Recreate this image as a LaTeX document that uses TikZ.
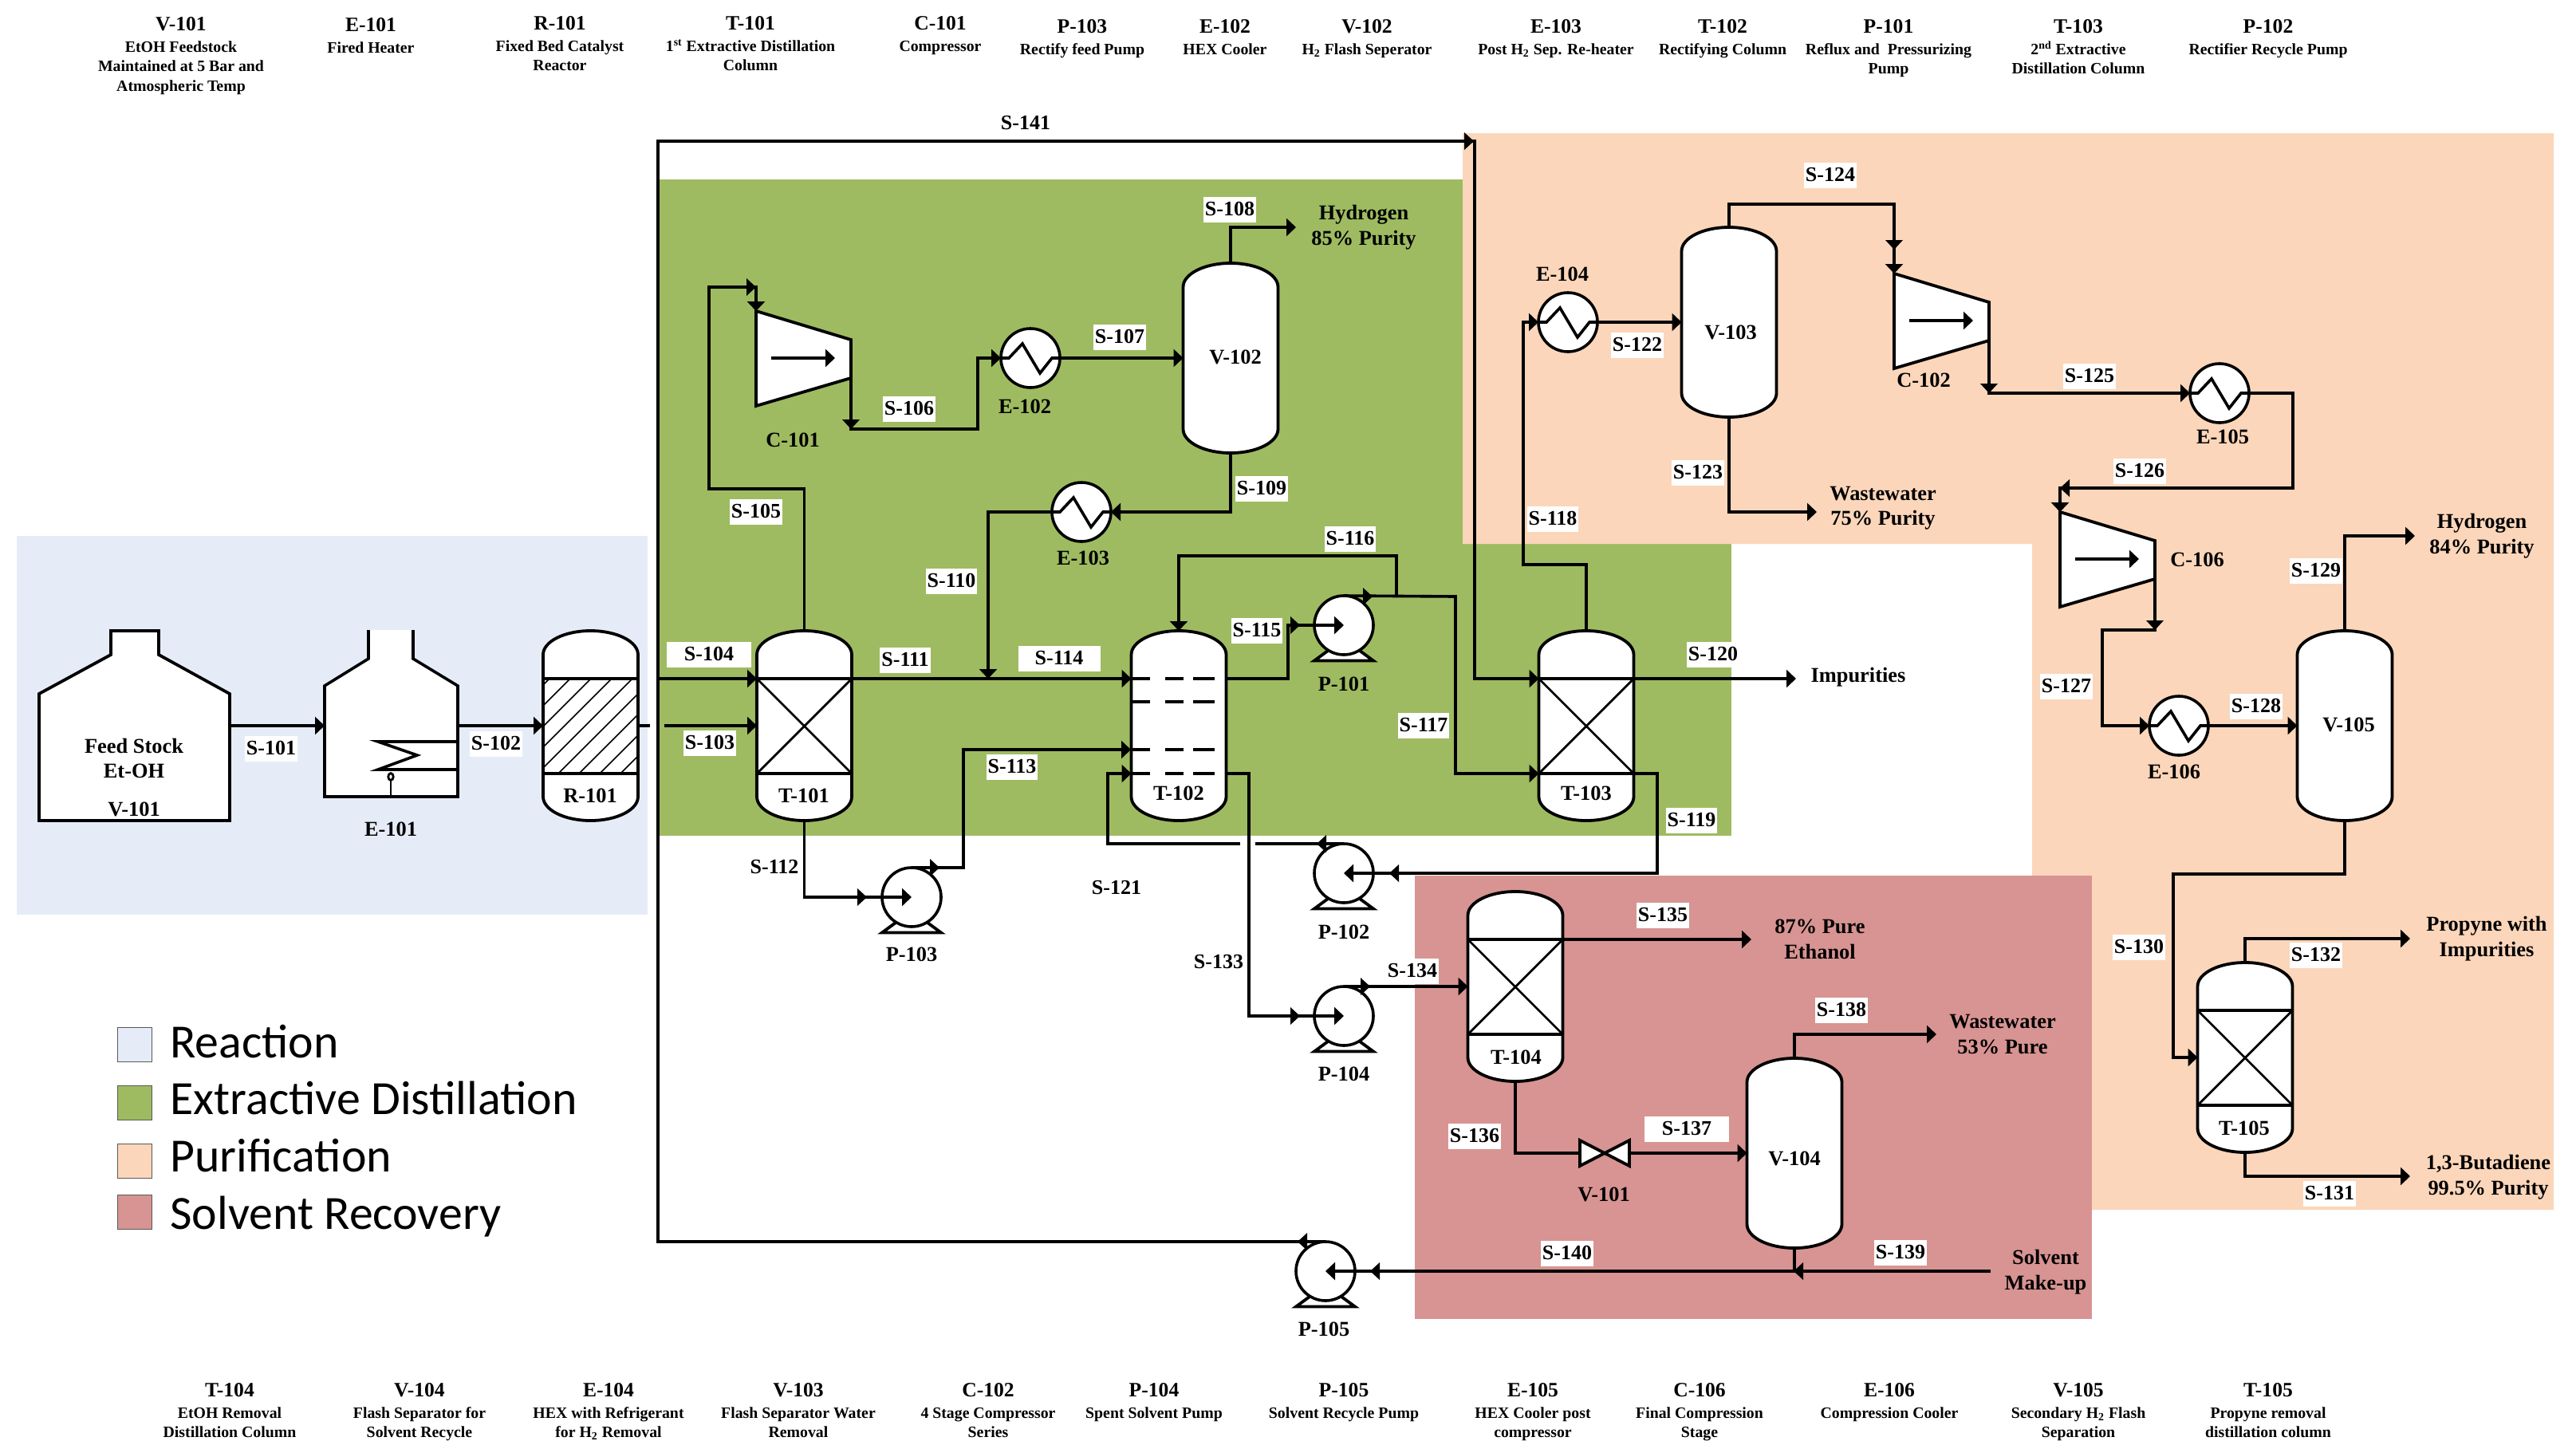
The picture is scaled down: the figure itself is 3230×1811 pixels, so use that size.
\documentclass[tikz,border=0pt]{standalone}
\usepackage{fontspec}
\setmainfont{Liberation Serif}
\newfontfamily\legendfont{Carlito}
\usetikzlibrary{arrows.meta}
\definecolor{regblue}{HTML}{E6ECF7}
\definecolor{reggreen}{HTML}{9EBB61}
\definecolor{regpeach}{HTML}{FBD6BA}
\definecolor{regrose}{HTML}{D79492}
\tikzset{
  pipe/.style={line width=1.8pt,line join=miter},
  flow/.style={pipe,-{Triangle[length=6pt,width=11pt]}},
  eq/.style={line width=1.9pt,fill=white,line join=miter},
  thinline/.style={line width=1.4pt},
  anch/.style={rectangle,inner sep=0pt,outer sep=0pt,minimum width=59.5pt,minimum height=119pt},
  hexnode/.style={circle,draw,fill=white,line width=1.8pt,inner sep=0pt,outer sep=0pt,minimum size=37pt},
  lab/.style={fill=white,font=\fontsize{13}{16}\selectfont\bfseries,text height=10.5pt,text depth=3.2pt,inner xsep=1pt,inner ysep=1pt},
  txt/.style={font=\fontsize{13.2}{15.8}\selectfont\bfseries,align=center,inner sep=0pt},
  ktitle/.style={font=\fontsize{12.8}{15}\selectfont\bfseries,inner sep=0pt,text height=8.3pt,text depth=0pt},
  kdesc/.style={font=\fontsize{9.9}{12.2}\selectfont\bfseries,align=center,inner sep=0pt,anchor=north},
  swatch/.style={rectangle,draw=black!65,line width=0.5pt,inner sep=0pt,minimum width=21.5pt,minimum height=21.5pt},
  legtext/.style={font=\fontsize{29.9}{32}\selectfont\legendfont,anchor=base west,inner sep=0pt}
}
% mid-line arrow head: x, y, direction
\newcommand\pfTip[3]{\fill[shift={(#1,#2)},rotate=#3] (0,0) -- (-12,-11) -- (-12,11) -- cycle;}
% vessel: name, centre x, top y
\newcommand\pfVessel[3]{%
  \node[anch] (#1) at (#2,{#3+119}) {};
  \draw[eq,shift={(#2,#3)}] (-59.5,30) arc[start angle=180,end angle=0,x radius=29.75pt,y radius=15pt]
    -- (59.5,208) arc[start angle=0,end angle=-180,x radius=29.75pt,y radius=15pt] -- cycle;
  \coordinate (#1-a) at ({#2-59.5},{#3+60});
  \coordinate (#1-b) at ({#2-59.5},{#3+179});
  \coordinate (#1-c) at ({#2+59.5},{#3+60});
  \coordinate (#1-d) at ({#2+59.5},{#3+179});
}
% packing bands and cross
\newcommand\pfPacked[2]{%
  \draw[pipe,shift={(#1,#2)}] (-59.5,60) -- (59.5,60) (-59.5,179) -- (59.5,179);
  \draw[thinline,shift={(#1,#2)}] (-59.5,60) -- (59.5,179) (59.5,60) -- (-59.5,179);
}
% compressor: name, left x, top y
\newcommand\pfComp[3]{%
  \draw[eq,shift={(#2,#3)}] (0,0) -- (119,36) -- (119,84) -- (0,119) -- cycle;
  \coordinate (#1-in) at (#2,#3);
  \coordinate (#1-out) at ({#2+119},{#3+84});
  \node[inner sep=0pt] (#1) at ({#2+59},{#3+59}) {};
  \draw[pipe,-{Triangle[length=6pt,width=11pt]}] ({#2+19},{#3+59}) -- ({#2+99},{#3+59});
}
% pump: name, centre x, centre y
\newcommand\pfPump[3]{%
  \draw[eq,shift={(#2,#3)}] (-37,44.5) -- (37,44.5) -- (20,32) -- (-20,32) -- cycle;
  \node[hexnode] (#1) at (#2,#3) {};
  \coordinate (#1-top) at (#2,{#3-37});
}
% heat exchanger: name, centre x, centre y
\newcommand\pfHex[3]{%
  \node[hexnode] (#1) at (#2,#3) {};
  \draw[pipe,shift={(#2,#3)}] (-37,0) -- (-27,0) -- (-10,-18) -- (12,19) -- (27,0) -- (37,0);
}
% key entry: name, x, title y, title, description
\newcommand\pfKey[5]{%
  \node[ktitle] (#1) at (#2,#3) {#4};
  \node[kdesc] (#1d) at (#2,{#3+18}) {\strut #5};
}
\begin{document}
\begin{tikzpicture}[x=0.5pt,y=-0.5pt]
\useasboundingbox (0,0) rectangle (3230,1811);
\fill[white] (0,0) rectangle (3230,1811);
% process regions
\fill[regblue] (21,672) rectangle (812,1147);
\fill[reggreen] (826,225) rectangle (2171,1048);
\fill[regpeach] (1834,167) -- (3202,167) -- (3202,1517) -- (2548,1517) -- (2548,682) -- (1834,682) -- cycle;
\fill[regrose] (1774,1098) rectangle (2623,1654);
% V-101 feed tank
\node[inner sep=0pt] (V101) at (168,910) {};
\draw[eq] (49,1029) -- (49,870) -- (139,821) -- (139,791) -- (199,791) -- (199,821) -- (288,870) -- (288,1029) -- cycle;
\coordinate (V101-o) at (288,910);
% E-101 fired heater
\node[inner sep=0pt] (E101) at (490,910) {};
\fill[white] (462,790) -- (462,826) -- (407,860) -- (407,999) -- (574,999) -- (574,860) -- (518,826) -- (518,790) -- cycle;
\draw[pipe] (462,790) -- (462,826) -- (407,860) -- (407,999) -- (574,999) -- (574,860) -- (518,826) -- (518,790);
\draw[pipe] (574,930) -- (474,930) -- (523,947) -- (474,965) -- (574,965);
\draw[thinline] (490,999) -- (490,978);
\draw[thinline] (490,974) ellipse[x radius=1.6pt,y radius=2.2pt];
\coordinate (E101-i) at (407,910);
\coordinate (E101-o) at (574,910);
% R-101 reactor
\pfVessel{R101}{740.5}{791}
\begin{scope}
  \clip (681,851) rectangle (800,970);
  \foreach \k in {-5,...,3} \draw[line width=0.8pt] ({700+\k*26},970) -- ({820+\k*26},850);
\end{scope}
\draw[pipe] (R101-a) -- (R101-c) (R101-b) -- (R101-d);
% columns
\pfVessel{T101}{1008.5}{791}\pfPacked{1008.5}{791}
\pfVessel{T102}{1478}{791}
\foreach \yy in {851,880,940,970} \draw[pipe] (1418,\yy) -- (1442,\yy) (1461,\yy) -- (1484,\yy) (1496,\yy) -- (1523,\yy);
\pfVessel{T103}{1989}{791}\pfPacked{1989}{791}
\pfVessel{T104}{1900}{1118}\pfPacked{1900}{1118}
\pfVessel{T105}{2815}{1207}\pfPacked{2815}{1207}
% flash drums
\pfVessel{V102}{1543}{330}
\pfVessel{V103}{2168}{285}
\pfVessel{V104}{2250}{1327}
\pfVessel{V105}{2940}{791}
% compressors
\pfComp{C101}{948}{390}
\pfComp{C102}{2375}{343}
\pfComp{C106}{2583}{642}
% heat exchangers
\pfHex{E102}{1292}{449}
\pfHex{E103}{1356}{642}
\pfHex{E104}{1966}{404}
\pfHex{E105}{2783}{493}
\pfHex{E106}{2732}{910}
% pumps
\pfPump{P101}{1685}{784}
\pfPump{P102}{1685}{1095}
\pfPump{P103}{1143}{1125}
\pfPump{P104}{1685}{1274}
\pfPump{P105}{1662}{1594}
% valve
\node[inner sep=0pt,minimum width=31pt,minimum height=15.5pt] (VLV) at (2012,1446) {};
\draw[eq] (1981,1430) -- (2043,1462) -- (2043,1430) -- (1981,1462) -- cycle;
% free ends and junctions
\coordinate (stubA) at (815,910);
\coordinate (stubB) at (833,910);
\coordinate (T101-f) at (949,910);
\coordinate (recA) at (825,851);
\coordinate (T102-f) at (1418,940);
\coordinate (jS110) at (1239,851);
\coordinate (jS116) at (1751,748);
\coordinate (gapA) at (1574,1058);
\coordinate (gapB) at (1555,1058);
\coordinate (prodH1) at (1625,285);
\coordinate (prodImp) at (2252,851);
\coordinate (prodW1) at (2278,642);
\coordinate (prodH2) at (3028,672);
\coordinate (prodP) at (3022,1177);
\coordinate (prodB) at (3022,1475);
\coordinate (prodE) at (2196,1178);
\coordinate (prodW2) at (2428,1297);
\coordinate (makeup) at (2496,1594);
\coordinate (jV104) at (2250,1594);
% connectors
\draw[flow] (V101-o) -- (E101-i);
\draw[flow] (E101-o) -- (R101.west);
\draw[pipe] (R101.east) -- (stubA);
\draw[flow] (stubB) -- (T101-f);
\draw[flow] (recA) -- (T101-a);
\draw[flow] (P105-top) -- (825,1557) -- (825,177) -- (1849,177) -- (1849,851) -- (T103-a);
\pfTip{1848}{177}{0}
\pfTip{1627}{1557}{180}
\draw[flow] (T101.north) -- (1008.5,613) -- (889,613) -- (889,360) -- (948,360) -- (C101-in);
\pfTip{948}{360}{0}
\draw[flow] (C101-out) -- (1067,538) -- (1226,538) -- (1226,449) -- (E102.west);
\pfTip{1067}{538}{270}
\draw[flow] (E102.east) -- (V102.west);
\draw[flow] (V102.north) -- (1543,285) -- (prodH1);
\draw[flow] (V102.south) -- (1543,642) -- (E103.east);
\draw[flow] (E103.west) -- (1239,642) -- (jS110);
\draw[flow] (T101-c) -- (T102-a);
\draw[flow] (T101.south) -- (1008.5,1125) -- (P103.center);
\pfTip{1087}{1125}{0}
\draw[flow] (P103-top) -- (1208,1088) -- (1208,940) -- (T102-f);
\pfTip{1178}{1088}{0}
\draw[flow] (T102-c) -- (1615,851) -- (1615,784) -- (P101.center);
\pfTip{1630}{784}{0}
\draw[flow] (P101-top) -- (1825,748) -- (1825,970) -- (T103-b);
\pfTip{1721}{748}{0}
\draw[flow] (jS116) -- (1751,697) -- (1478,697) -- (T102.north);
\draw[flow] (T103.north) -- (1989,708) -- (1910,708) -- (1910,404) -- (E104.west);
\draw[flow] (E104.east) -- (V103.west);
\draw[flow] (T103-c) -- (prodImp);
\draw[flow] (T103-d) -- (2078,970) -- (2078,1095) -- (P102.center);
\pfTip{1742}{1095}{180}
\draw[pipe] (P102-top) -- (gapA);
\pfTip{1651}{1058}{180}
\draw[flow] (gapB) -- (1389,1058) -- (1389,970) -- (T102-b);
\draw[flow] (T102-d) -- (1566,970) -- (1566,1274) -- (P104.center);
\pfTip{1630}{1274}{0}
\draw[flow] (P104-top) -- (T104.west);
\pfTip{1718}{1237}{0}
\draw[flow] (V103.south) -- (2168,642) -- (prodW1);
\draw[flow] (V103.north) -- (2168,256) -- (2375,256) -- (C102-in);
\pfTip{2375}{313}{270}
\draw[flow] (C102-out) -- (2494,493) -- (E105.west);
\pfTip{2494}{493}{270}
\draw[flow] (E105.east) -- (2875,493) -- (2875,612) -- (2583,612) -- (C106-in);
\pfTip{2583}{612}{180}
\draw[flow] (C106-out) -- (2702,790) -- (2636,790) -- (2636,910) -- (E106.west);
\pfTip{2702}{790}{270}
\draw[flow] (E106.east) -- (V105.west);
\draw[flow] (V105.north) -- (2940,672) -- (prodH2);
\draw[flow] (V105.south) -- (2940,1096) -- (2725,1096) -- (2725,1326) -- (T105.west);
\draw[flow] (T105.north) -- (2815,1177) -- (prodP);
\draw[flow] (T105.south) -- (2815,1475) -- (prodB);
\draw[flow] (T104-c) -- (prodE);
\draw[pipe] (T104.south) -- (1900,1446) -- (VLV.west);
\draw[flow] (VLV.east) -- (V104.west);
\draw[flow] (V104.north) -- (2250,1297) -- (prodW2);
\draw[pipe] (V104.south) -- (jV104);
\draw[flow] (makeup) -- (P105.center);
\pfTip{2249}{1594}{180}
\pfTip{1718}{1594}{180}
% stream labels
\node[lab] (s101) at (340,939) {S-101};
\node[lab] (s102) at (622,933) {S-102};
\node[lab] (s103) at (890,932) {S-103};
\node[lab,minimum width=53pt] (s104) at (889,821) {S-104};
\node[lab] (s105) at (948,642) {S-105};
\node[lab] (s106) at (1140,513) {S-106};
\node[lab] (s107) at (1404,423) {S-107};
\node[lab] (s108) at (1542,263) {S-108};
\node[lab] (s109) at (1582,613) {S-109};
\node[lab] (s110) at (1193,729) {S-110};
\node[lab] (s111) at (1135,828) {S-111};
\node[lab] (s112) at (971,1088) {S-112};
\node[lab] (s113) at (1269,962) {S-113};
\node[lab,minimum width=51.5pt] (s114) at (1328,826) {S-114};
\node[lab] (s115) at (1576,791) {S-115};
\node[lab] (s116) at (1693,676) {S-116};
\node[lab] (s117) at (1785,910) {S-117};
\node[lab] (s118) at (1947,651) {S-118};
\node[lab] (s119) at (2121,1029) {S-119};
\node[lab] (s120) at (2148,821) {S-120};
\node[lab] (s121) at (1400,1114) {S-121};
\node[lab] (s122) at (2053,433) {S-122};
\node[lab] (s123) at (2129,593) {S-123};
\node[lab] (s124) at (2295,220) {S-124};
\node[lab] (s125) at (2620,472) {S-125};
\node[lab] (s126) at (2683,591) {S-126};
\node[lab] (s127) at (2591,861) {S-127};
\node[lab] (s128) at (2829,886) {S-128};
\node[lab] (s129) at (2904,716) {S-129};
\node[lab] (s130) at (2682,1188) {S-130};
\node[lab] (s131) at (2921,1497) {S-131};
\node[lab] (s132) at (2904,1198) {S-132};
\node[lab] (s133) at (1528,1207) {S-133};
\node[lab] (s134) at (1771,1218) {S-134};
\node[lab] (s135) at (2085,1148) {S-135};
\node[lab] (s136) at (1849,1425) {S-136};
\node[lab,minimum width=53pt] (s137) at (2115,1416) {S-137};
\node[lab] (s138) at (2309,1267) {S-138};
\node[lab] (s139) at (2383,1571) {S-139};
\node[lab] (s140) at (1965,1572) {S-140};
\node[lab] (s141) at (1286,155) {S-141};
% equipment labels
\node[txt] (tFeed) at (168,951) {Feed Stock\\Et-OH};
\node[txt] (tV101) at (168,1015) {V-101};
\node[txt] (tE101) at (490,1040) {E-101};
\node[txt] (tR101) at (740,998) {R-101};
\node[txt] (tT101) at (1008,998) {T-101};
\node[txt] (tC101) at (994,552) {C-101};
\node[txt] (tE102) at (1285,510) {E-102};
\node[txt] (tV102) at (1549,448) {V-102};
\node[txt] (tE103) at (1358,700) {E-103};
\node[txt] (tP101) at (1685,858) {P-101};
\node[txt] (tT102) at (1478,995) {T-102};
\node[txt] (tT103) at (1989,995) {T-103};
\node[txt] (tE104) at (1959,344) {E-104};
\node[txt] (tV103) at (2170,417) {V-103};
\node[txt] (tC102) at (2412,477) {C-102};
\node[txt] (tE105) at (2787,548) {E-105};
\node[txt] (tC106) at (2755,702) {C-106};
\node[txt] (tE106) at (2726,968) {E-106};
\node[txt] (tV105) at (2945,909) {V-105};
\node[txt] (tT105) at (2814,1415) {T-105};
\node[txt] (tP102) at (1685,1169) {P-102};
\node[txt] (tP104) at (1685,1347) {P-104};
\node[txt] (tP105) at (1660,1667) {P-105};
\node[txt] (tP103) at (1143,1197) {P-103};
\node[txt] (tT104) at (1901,1326) {T-104};
\node[txt] (tVLV) at (2011,1498) {V-101};
\node[txt] (tV104) at (2250,1453) {V-104};
% product labels
\node[txt] (oH1) at (1710,285) {Hydrogen\\85\% Purity};
\node[txt] (oImp) at (2330,849) {Impurities};
\node[txt] (oW1) at (2361,637) {Wastewater\\75\% Purity};
\node[txt] (oH2) at (3112,672) {Hydrogen\\84\% Purity};
\node[txt] (oP) at (3118,1177) {Propyne with\\Impurities};
\node[txt] (oB) at (3120,1476) {1,3-Butadiene\\99.5\% Purity};
\node[txt] (oE) at (2282,1178) {87\% Pure\\Ethanol};
\node[txt] (oW2) at (2511,1297) {Wastewater\\53\% Pure};
\node[txt] (oS) at (2565,1595) {Solvent\\Make-up};
% top key
\pfKey{kV101}{227}{30}{V-101}{EtOH Feedstock\\Maintained at 5 Bar and\\Atmospheric Temp}
\pfKey{kE101}{465}{31}{E-101}{Fired Heater}
\pfKey{kR101}{702}{29}{R-101}{Fixed Bed Catalyst\\Reactor}
\pfKey{kT101}{941}{29}{T-101}{1\textsuperscript{st} Extractive Distillation\\Column}
\pfKey{kC101}{1179}{29}{C-101}{Compressor}
\pfKey{kP103}{1357}{33}{P-103}{Rectify feed Pump}
\pfKey{kE102}{1536}{33}{E-102}{HEX Cooler}
\pfKey{kV102}{1714}{33}{V-102}{H\textsubscript{2} Flash Seperator}
\pfKey{kE103}{1951}{33}{E-103}{Post H\textsubscript{2} Sep. Re-heater}
\pfKey{kT102}{2160}{33}{T-102}{Rectifying Column}
\pfKey{kP101}{2368}{33}{P-101}{Reflux and\ \ Pressurizing\\Pump}
\pfKey{kT103}{2606}{33}{T-103}{2\textsuperscript{nd} Extractive\\Distillation Column}
\pfKey{kP102}{2844}{33}{P-102}{Rectifier Recycle Pump}
% bottom key
\pfKey{bT104}{288}{1743}{T-104}{EtOH Removal\\Distillation Column}
\pfKey{bV104}{526}{1743}{V-104}{Flash Separator for\\Solvent Recycle}
\pfKey{bE104}{763}{1743}{E-104}{HEX with Refrigerant\\for H\textsubscript{2} Removal}
\pfKey{bV103}{1001}{1743}{V-103}{Flash Separator Water\\Removal}
\pfKey{bC102}{1239}{1743}{C-102}{4 Stage Compressor\\Series}
\pfKey{bP104}{1447}{1743}{P-104}{Spent Solvent Pump}
\pfKey{bP105}{1685}{1743}{P-105}{Solvent Recycle Pump}
\pfKey{bE105}{1922}{1743}{E-105}{HEX Cooler post\\compressor}
\pfKey{bC106}{2131}{1743}{C-106}{Final Compression\\Stage}
\pfKey{bE106}{2369}{1743}{E-106}{Compression Cooler}
\pfKey{bV105}{2606}{1743}{V-105}{Secondary H\textsubscript{2} Flash\\Separation}
\pfKey{bT105}{2844}{1743}{T-105}{Propyne removal\\distillation column}
% legend
\node[swatch,fill=regblue] (lgA) at (168.5,1309.5) {};
\node[swatch,fill=reggreen] (lgB) at (168.5,1382.5) {};
\node[swatch,fill=regpeach] (lgC) at (168.5,1455.5) {};
\node[swatch,fill=regrose] (lgD) at (168.5,1519.5) {};
\node[legtext] (lgtA) at (213,1326) {Reaction};
\node[legtext] (lgtB) at (213,1397) {Extractive Distillation};
\node[legtext] (lgtC) at (213,1469) {Purification};
\node[legtext] (lgtD) at (213,1541) {Solvent Recovery};
\end{tikzpicture}
\end{document}
